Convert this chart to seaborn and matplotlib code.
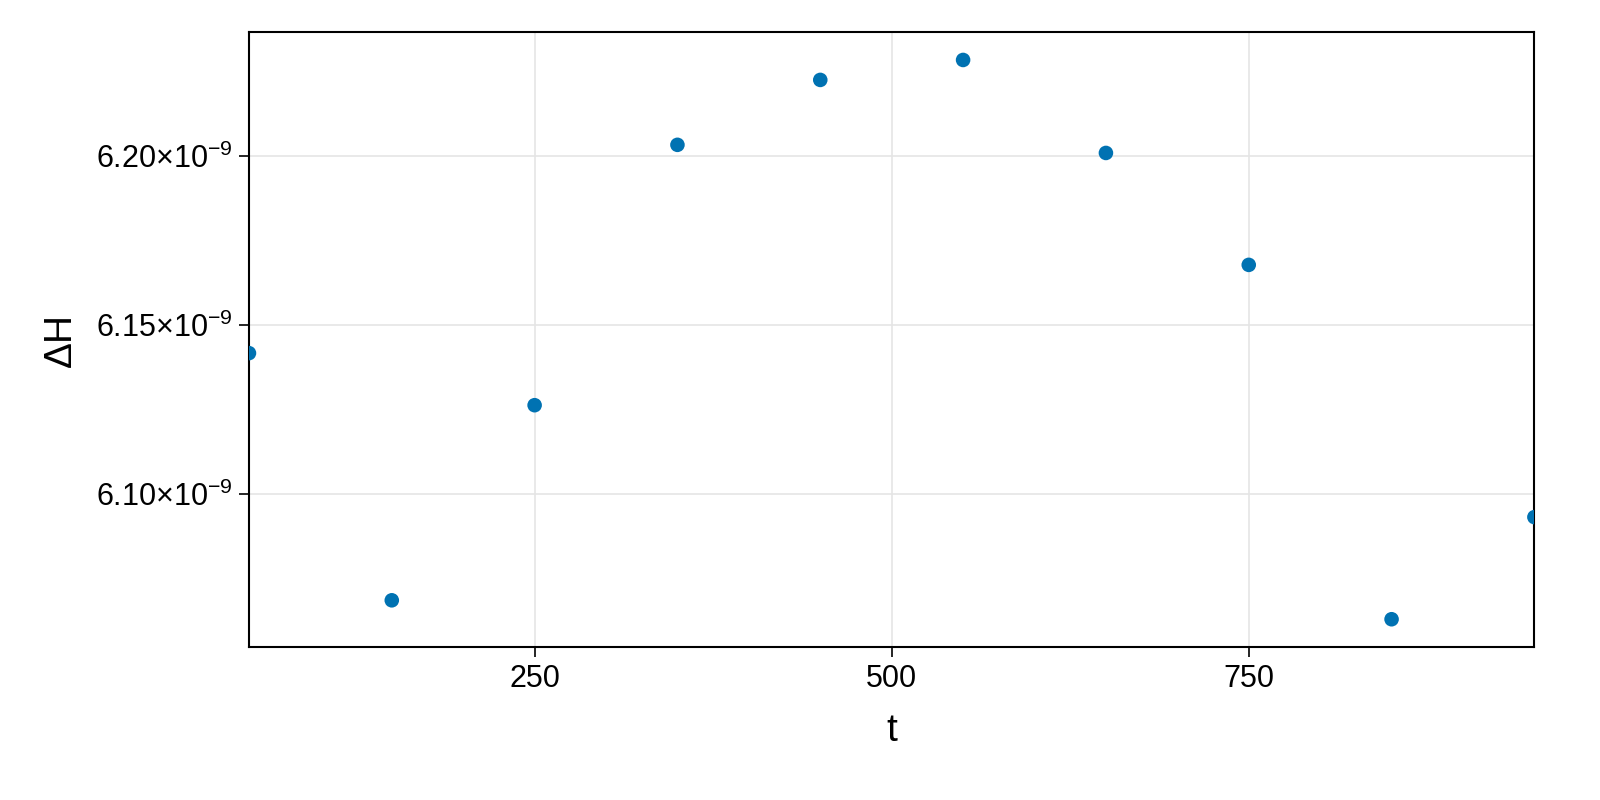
import matplotlib
matplotlib.use("Agg")
import matplotlib.pyplot as plt
import matplotlib.ticker as mticker
import seaborn as sns
import pandas as pd

# ---------------------------------------------------------------------------
t_vals = [50, 150, 250, 350, 450, 550, 650, 750, 850, 950]
dH_vals = [6.1417e-9, 6.0686e-9, 6.1263e-9, 6.2033e-9, 6.2225e-9,
           6.2284e-9, 6.2009e-9, 6.1678e-9, 6.0630e-9, 6.0932e-9]
x_ticks = [250, 500, 750]
y_ticks = [6.10e-9, 6.15e-9, 6.20e-9]

df = pd.DataFrame({'t': t_vals, 'dH': dH_vals})

# ---------------------------------------------------------------------------
sns.set_style("white")
plt.rcParams['font.family'] = ['Liberation Sans', 'DejaVu Sans']
plt.rcParams['mathtext.fontset'] = 'custom'
plt.rcParams['mathtext.rm'] = 'Liberation Sans'
plt.rcParams['mathtext.it'] = 'Liberation Sans'

fig = plt.figure(figsize=(16, 8), dpi=100)
ax = fig.add_axes([0.1556, 0.191, 0.8034, 0.769])

sns.scatterplot(data=df, x='t', y='dH', ax=ax, color='#0072B2', s=110,
                edgecolor='none', clip_on=True, zorder=3)

# limits like Makie: x tight, y with 5% margin
ax.set_xlim(min(t_vals), max(t_vals))
span = max(dH_vals) - min(dH_vals)
ax.set_ylim(min(dH_vals) - 0.05 * span, max(dH_vals) + 0.05 * span)

ax.set_xticks(x_ticks)
ax.set_yticks(y_ticks)


def fmt(v, pos):
    return r"$%.2f{\times}10^{-9}$" % (v * 1e9)


ax.yaxis.set_major_formatter(mticker.FuncFormatter(fmt))
ax.grid(True, color='#e5e5e5', linewidth=1.2)
ax.set_axisbelow(True)

for sp in ax.spines.values():
    sp.set_color('black')
    sp.set_linewidth(1.5)

ax.tick_params(axis='both', direction='out', length=7, width=1.2,
               labelsize=22, colors='black', pad=5, bottom=True, left=True)

ax.set_xlabel('t', fontsize=28, labelpad=14, color='black')
ax.set_ylabel('ΔH', fontsize=28, labelpad=12, color='black')

fig.savefig('out.png', dpi=100)
